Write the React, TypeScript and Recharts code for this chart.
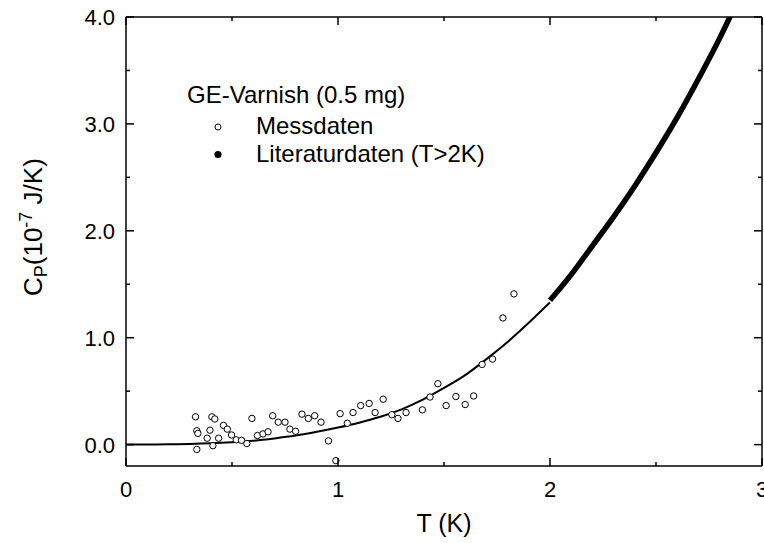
import React from 'react';
import { ComposedChart, Line, Scatter, XAxis, YAxis, Customized } from 'recharts';

const FONT = '"Liberation Sans", Arial, Helvetica, sans-serif';

// Fitted heat-capacity curve below 2 K
const fitT = [0, 0.1, 0.2, 0.3, 0.4, 0.5, 0.6, 0.7, 0.8, 0.9, 1.0, 1.1, 1.2, 1.3, 1.4, 1.5, 1.6, 1.7, 1.8, 1.9, 2.0];
const fitC = [0, 0.001, 0.003, 0.006, 0.012, 0.022, 0.036, 0.058, 0.085, 0.12, 0.16, 0.205, 0.26, 0.33, 0.42, 0.53, 0.65, 0.8, 0.96, 1.14, 1.33];

// Literature values above 2 K
const litT = [2.0, 2.1, 2.2, 2.3, 2.4, 2.5, 2.6, 2.7, 2.8, 2.9];
const litC = [1.35, 1.59, 1.86, 2.13, 2.42, 2.73, 3.06, 3.42, 3.8, 4.22];

// Measured points
const measT = [0.328, 0.334, 0.339, 0.334, 0.383, 0.396, 0.405, 0.419, 0.41, 0.437, 0.46, 0.478, 0.498, 0.52, 0.545, 0.57, 0.594, 0.62, 0.646, 0.67, 0.692, 0.718, 0.75, 0.773, 0.8, 0.83, 0.86, 0.89, 0.92, 0.955, 0.99, 1.01, 1.044, 1.071, 1.107, 1.147, 1.175, 1.213, 1.254, 1.283, 1.321, 1.398, 1.434, 1.471, 1.51, 1.556, 1.6, 1.64, 1.68, 1.729, 1.778, 1.83];
const measC = [0.26, 0.13, 0.105, -0.045, 0.06, 0.135, 0.26, 0.24, -0.01, 0.06, 0.18, 0.145, 0.09, 0.045, 0.04, 0.01, 0.245, 0.085, 0.1, 0.12, 0.27, 0.21, 0.21, 0.145, 0.125, 0.285, 0.245, 0.27, 0.21, 0.035, -0.15, 0.29, 0.2, 0.3, 0.365, 0.385, 0.3, 0.425, 0.28, 0.245, 0.3, 0.325, 0.445, 0.57, 0.365, 0.45, 0.375, 0.455, 0.75, 0.8, 1.185, 1.41];

// Axis ticks and their labels
const xTicks = [0, 0.5, 1, 1.5, 2, 2.5, 3];
const xTickLabels = ['0', '', '1', '', '2', '', '3'];
const yTicks = [0, 0.5, 1, 1.5, 2, 2.5, 3, 3.5, 4];
const yTickLabels = ['0.0', '', '1.0', '', '2.0', '', '3.0', '', '4.0'];

const fitData = fitT.map((t, i) => ({ t, c: fitC[i] }));
const litData = litT.map((t, i) => ({ t, c: litC[i] }));
const measData = measT.map((t, i) => ({ t, c: measC[i] }));

const MAJOR = 8;
const MINOR = 4;
const TICK_W = 1.5;

const labelFor = (ticks: number[], labels: string[], v: number) => labels[ticks.indexOf(v)] ?? '';

const BottomTick = (props: any) => {
  const { x, y, payload } = props;
  const text = labelFor(xTicks, xTickLabels, payload.value);
  return (
    <g>
      <line x1={x} x2={x} y1={y} y2={y - (text ? MAJOR : MINOR)} stroke="#000" strokeWidth={TICK_W} />
      {text && (
        <text x={x} y={y + 31} textAnchor="middle" fontSize={22} fontFamily={FONT} fill="#000">
          {text}
        </text>
      )}
    </g>
  );
};

const TopTick = (props: any) => {
  const { x, y, payload } = props;
  const major = labelFor(xTicks, xTickLabels, payload.value) !== '';
  return <line x1={x} x2={x} y1={y} y2={y + (major ? MAJOR : MINOR)} stroke="#000" strokeWidth={TICK_W} />;
};

const LeftTick = (props: any) => {
  const { x, y, payload } = props;
  const text = labelFor(yTicks, yTickLabels, payload.value);
  return (
    <g>
      <line x1={x} x2={x + (text ? MAJOR : MINOR)} y1={y} y2={y} stroke="#000" strokeWidth={TICK_W} />
      {text && (
        <text x={x - 11} y={y + 8} textAnchor="end" fontSize={22} fontFamily={FONT} fill="#000">
          {text}
        </text>
      )}
    </g>
  );
};

const RightTick = (props: any) => {
  const { x, y, payload } = props;
  const major = labelFor(yTicks, yTickLabels, payload.value) !== '';
  return <line x1={x} x2={x - (major ? MAJOR : MINOR)} y1={y} y2={y} stroke="#000" strokeWidth={TICK_W} />;
};

const XTitle = (props: any) => {
  const vb = props.viewBox || { x: 126, y: 466, width: 636 };
  return (
    <text x={vb.x + vb.width / 2} y={466 + 66} textAnchor="middle" fontSize={25} fontFamily={FONT} fill="#000">
      T (K)
    </text>
  );
};

const YTitle = () => {
  const x = 42;
  const y = 296;
  return (
    <text
      x={x}
      y={y}
      transform={`rotate(-90, ${x}, ${y})`}
      textAnchor="start"
      fontSize={26}
      fontFamily={FONT}
      fill="#000"
    >
      C
      <tspan fontSize={18} dy={5}>P</tspan>
      <tspan dy={-5}>(10</tspan>
      <tspan fontSize={18} dy={-10}>-7</tspan>
      <tspan dy={10}> J/K)</tspan>
    </text>
  );
};

const LegendBlock = () => (
  <g fontFamily={FONT} fontSize={24} fill="#000">
    <text x={187} y={103}>GE-Varnish (0.5 mg)</text>
    <circle cx={218} cy={127} r={3} fill="#fff" stroke="#000" strokeWidth={1} />
    <text x={256} y={134}>Messdaten</text>
    <circle cx={218} cy={154.5} r={3.6} fill="#000" />
    <text x={256} y={162}>Literaturdaten (T&gt;2K)</text>
  </g>
);

const OpenCircle = (props: any) => (
  <circle cx={props.cx} cy={props.cy} r={3.2} fill="#fff" stroke="#000" strokeWidth={1} />
);

export default function App() {
  return (
    <div style={{ position: 'absolute', left: 0, top: 0, background: '#fff' }}>
      <ComposedChart width={764} height={543} margin={{ top: 16, right: 1, bottom: 76, left: 0 }}>
        <XAxis
          xAxisId="bottom"
          dataKey="t"
          type="number"
          domain={[0, 3]}
          ticks={xTicks}
          interval={0}
          allowDataOverflow
          height={1}
          tickSize={0}
          tickMargin={0}
          tickLine={false}
          axisLine={{ stroke: '#000', strokeWidth: 1.5 }}
          tick={BottomTick}
          label={{ content: XTitle }}
        />
        <XAxis
          xAxisId="top"
          orientation="top"
          dataKey="t"
          type="number"
          domain={[0, 3]}
          ticks={xTicks}
          interval={0}
          allowDataOverflow
          height={1}
          tickSize={0}
          tickMargin={0}
          tickLine={false}
          axisLine={{ stroke: '#000', strokeWidth: 1.5 }}
          tick={TopTick}
        />
        <YAxis
          yAxisId="left"
          dataKey="c"
          type="number"
          domain={[-0.2, 4]}
          ticks={yTicks}
          interval={0}
          allowDataOverflow
          width={126}
          tickSize={0}
          tickMargin={0}
          tickLine={false}
          axisLine={{ stroke: '#000', strokeWidth: 1.5 }}
          tick={LeftTick}
          label={{ content: YTitle }}
        />
        <YAxis
          yAxisId="right"
          orientation="right"
          dataKey="c"
          type="number"
          domain={[-0.2, 4]}
          ticks={yTicks}
          interval={0}
          allowDataOverflow
          width={1}
          tickSize={0}
          tickMargin={0}
          tickLine={false}
          axisLine={{ stroke: '#000', strokeWidth: 1.5 }}
          tick={RightTick}
        />
        <Line
          xAxisId="bottom"
          yAxisId="left"
          data={fitData}
          dataKey="c"
          type="monotone"
          stroke="#000"
          strokeWidth={2}
          dot={false}
          activeDot={false}
          isAnimationActive={false}
        />
        <Line
          xAxisId="bottom"
          yAxisId="left"
          data={litData}
          dataKey="c"
          type="monotone"
          stroke="#000"
          strokeWidth={5.5}
          dot={false}
          activeDot={false}
          isAnimationActive={false}
        />
        <Scatter
          xAxisId="bottom"
          yAxisId="left"
          data={measData}
          dataKey="c"
          shape={OpenCircle}
          isAnimationActive={false}
        />
        <Customized component={LegendBlock} />
      </ComposedChart>
    </div>
  );
}
